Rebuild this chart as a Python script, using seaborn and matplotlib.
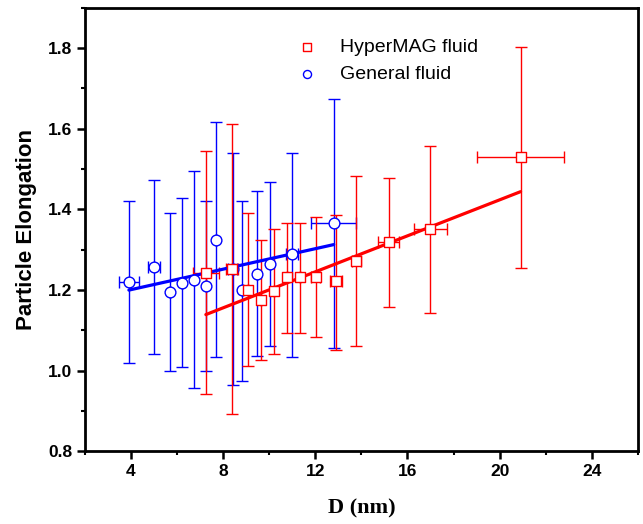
import numpy as np
import pandas as pd
import matplotlib
matplotlib.use("Agg")
import matplotlib.pyplot as plt
import seaborn as sns
from matplotlib.ticker import MultipleLocator

# HyperMAG fluid (red squares)
d_red = [7.25, 8.38, 9.08, 9.63, 10.21, 10.77, 11.32, 12.02, 12.91, 13.78, 15.18, 16.99, 20.91]
elong_red = [1.243, 1.251, 1.200, 1.175, 1.197, 1.231, 1.231, 1.231, 1.221, 1.272, 1.318, 1.351, 1.531]
red_hi = [1.544, 1.612, 1.390, 1.323, 1.352, 1.367, 1.366, 1.380, 1.386, 1.482, 1.477, 1.558, 1.804]
red_lo = [0.942, 0.891, 1.011, 1.026, 1.042, 1.092, 1.094, 1.083, 1.052, 1.060, 1.157, 1.143, 1.254]
red_xerr = [0.56, 0.25, 0.0, 0.0, 0.0, 0.0, 0.0, 0.2, 0.25, 0.2, 0.45, 0.71, 1.89]

# General fluid (blue circles)
d_blue = [3.91, 5.00, 5.69, 6.22, 6.75, 7.25, 7.70, 8.41, 8.81, 9.45, 10.02, 11.00, 12.80]
elong_blue = [1.220, 1.258, 1.195, 1.218, 1.225, 1.210, 1.325, 1.253, 1.199, 1.240, 1.264, 1.288, 1.365]
blue_hi = [1.420, 1.474, 1.390, 1.427, 1.494, 1.420, 1.616, 1.540, 1.420, 1.445, 1.467, 1.540, 1.673]
blue_lo = [1.020, 1.042, 0.998, 1.010, 0.957, 1.000, 1.033, 0.963, 0.975, 1.036, 1.062, 1.033, 1.056]
blue_xerr = [0.42, 0.28, 0.0, 0.0, 0.0, 0.0, 0.0, 0.2, 0.0, 0.0, 0.0, 0.25, 0.97]

# linear fits (slope, intercept)
fit_red = (0.02233, 0.977)
fit_blue = (0.0127, 1.150)

sns.set_style("ticks", {'axes.edgecolor': 'black', 'xtick.color': 'black',
                        'ytick.color': 'black', 'text.color': 'black',
                        'axes.labelcolor': 'black'})
plt.rcParams['font.family'] = ['Liberation Sans', 'DejaVu Sans']
plt.rcParams['font.weight'] = 'bold'

fig, ax = plt.subplots(figsize=(6.43, 5.24), dpi=100)
fig.subplots_adjust(left=0.132, right=0.992, top=0.985, bottom=0.139)

def draw_series(x, y, lo, hi, xerr, color, marker, label, fit):
    x = np.array(x)
    y = np.array(y)
    yerr = [y - np.array(lo), np.array(hi) - y]
    ax.errorbar(x, y, yerr=yerr, xerr=xerr, fmt='none', ecolor=color,
                elinewidth=1.0, capsize=4, capthick=1.0, zorder=2)
    xs = np.array([x.min(), x.max()])
    ax.plot(xs, fit[0] * xs + fit[1], color=color, lw=2.3, zorder=3)
    df = pd.DataFrame({'D': x, 'E': y})
    sns.scatterplot(data=df, x='D', y='E', ax=ax, marker=marker, s=60,
                    facecolor='white', edgecolor=color, linewidth=1.0,
                    label=label, zorder=4)

draw_series(d_blue, elong_blue, blue_lo, blue_hi, blue_xerr, 'blue', 'o', 'General fluid', fit_blue)
draw_series(d_red, elong_red, red_lo, red_hi, red_xerr, 'red', 's', 'HyperMAG fluid', fit_red)

ax.set_xlim(2, 26)
ax.set_ylim(0.8, 1.9)
ax.set_xticks([4, 8, 12, 16, 20, 24])
ax.set_yticks([0.8, 1.0, 1.2, 1.4, 1.6, 1.8])
ax.xaxis.set_minor_locator(MultipleLocator(2))
ax.yaxis.set_minor_locator(MultipleLocator(0.1))
ax.tick_params(axis='both', which='major', direction='out', length=5.5, width=1.8,
               labelsize=12.5, top=False, right=False, colors='black')
ax.tick_params(axis='both', which='minor', direction='out', length=3, width=1.5,
               top=False, right=False)
for lab in ax.get_xticklabels() + ax.get_yticklabels():
    lab.set_fontweight('bold')
for sp in ax.spines.values():
    sp.set_linewidth(2)
    sp.set_color('black')
    sp.set_visible(True)

ax.set_xlabel('D (nm)', family=['Liberation Serif', 'DejaVu Serif'],
              fontsize=16, fontweight='bold', labelpad=14)
ax.set_ylabel('Particle Elongation', fontsize=16, fontweight='bold', labelpad=8)

handles, labels = ax.get_legend_handles_labels()
order = [labels.index('HyperMAG fluid'), labels.index('General fluid')]
leg = ax.legend([handles[i] for i in order], [labels[i] for i in order],
                loc='upper left', bbox_to_anchor=(0.352, 0.97), frameon=False,
                markerscale=0.75, handlelength=1.0, handletextpad=1.2,
                labelspacing=0.45, prop={'weight': 'normal', 'size': 14})

plt.savefig('out.png', dpi=100)
